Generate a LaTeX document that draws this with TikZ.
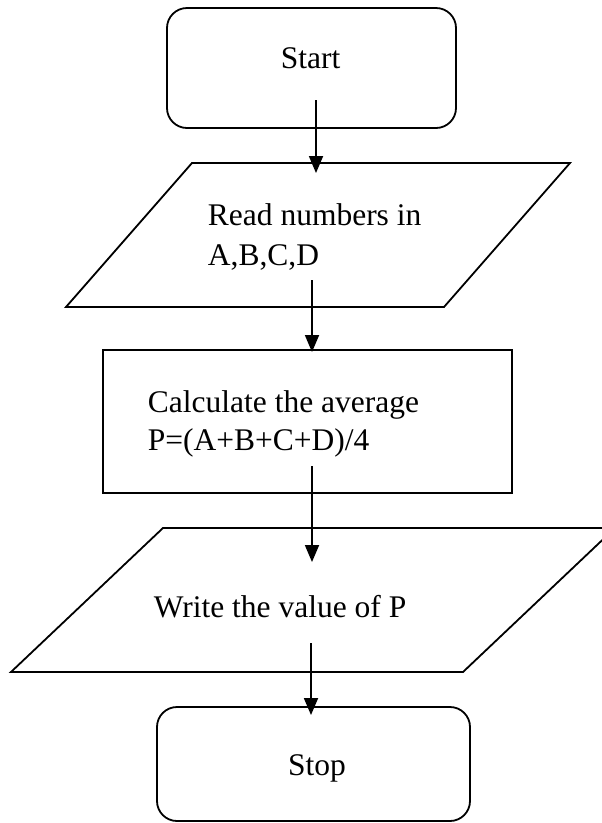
\documentclass[tikz,border=0pt]{standalone}
\usepackage{fontspec}
\setmainfont{Liberation Serif}
\usetikzlibrary{arrows.meta}
\begin{document}
\begin{tikzpicture}[x=1pt,y=-1pt,
  line width=1.8pt,
  box/.style={draw, line width=1.8pt, inner sep=0pt},
  term/.style={draw, line width=1.8pt, rounded corners=20pt, inner sep=0pt},
  txt/.style={inner sep=0pt, font=\fontsize{31.5}{38}\selectfont},
  flow/.style={-{Triangle[length=17pt,width=14pt]}, line width=1.8pt}]
\fill[white] (0,0) rectangle (602,823);
\useasboundingbox (0,0) rectangle (602,823);
\clip (0,0) rectangle (602,823);

% Start
\node[term, minimum width=289pt, minimum height=120pt] (startbox) at (311.5,68) {};
\node[txt, anchor=base] (starttxt) at (310.5,68) {Start};

% Input parallelogram
\draw (192,163) -- (570,163) -- (444,307) -- (66,307) -- cycle;
\node[txt, anchor=base west] (read1) at (207,225) {Read numbers in};
\node[txt, anchor=base west] (read2) at (207,265) {A,B,C,D};

% Process
\node[box, minimum width=409pt, minimum height=143pt] (calc) at (307.5,421.5) {};
\node[txt, anchor=base west] (calc1) at (147,412) {Calculate the average};
\node[txt, anchor=base west] (calc2) at (147,450) {P=(A+B+C+D)/4};

% Output parallelogram
\draw (163,528) -- (615,528) -- (463,672) -- (11,672) -- cycle;
\node[txt, anchor=base west] (write) at (153,617) {Write the value of P};

% Stop
\node[term, minimum width=313pt, minimum height=114pt] (stopbox) at (313.5,764) {};
\node[txt, anchor=base] (stoptxt) at (317,775) {Stop};

% Connectors
\coordinate (a1s) at (316,100); \coordinate (a1e) at (316,173);
\coordinate (a2s) at (312,280); \coordinate (a2e) at (312,352);
\coordinate (a3s) at (312,466); \coordinate (a3e) at (312,562);
\coordinate (a4s) at (311,643); \coordinate (a4e) at (311,715);
\draw[flow] (a1s) -- (a1e);
\draw[flow] (a2s) -- (a2e);
\draw[flow] (a3s) -- (a3e);
\draw[flow] (a4s) -- (a4e);
\end{tikzpicture}
\end{document}
